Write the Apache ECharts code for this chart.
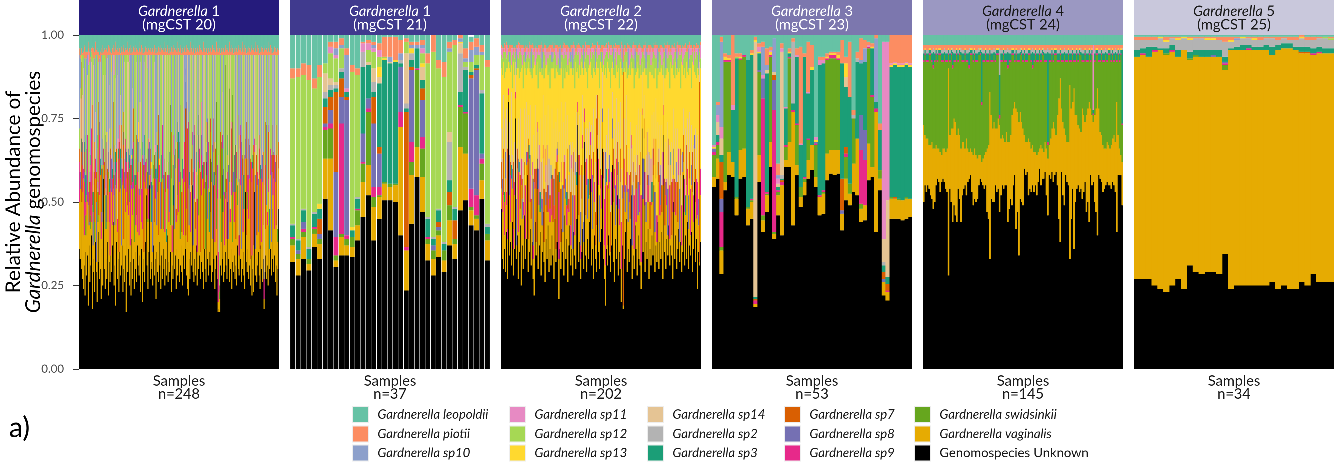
<!DOCTYPE html>
<html>
<head>
<meta charset="utf-8">
<script src="https://cdn.jsdelivr.net/npm/echarts@6/dist/echarts.min.js"></script>
<style>
html,body{margin:0;padding:0;background:#ffffff;}
#chart{width:1342px;height:462px;}
</style>
</head>
<body>
<div id="chart"></div>
<script>
// Species, bottom of the stack first. Codes are used in the sample strings below.
const stackCodes = ['U','V','S','J','I','H','G','F','E','D','C','B','A','P','L'];
const stackNames = ['Genomospecies Unknown','Gardnerella vaginalis','Gardnerella swidsinkii','Gardnerella sp9','Gardnerella sp8','Gardnerella sp7','Gardnerella sp3','Gardnerella sp2','Gardnerella sp14','Gardnerella sp13','Gardnerella sp12','Gardnerella sp11','Gardnerella sp10','Gardnerella piotii','Gardnerella leopoldii'];
const stackColors = ['#000000','#E6AB02','#66A61E','#E7298A','#7570B3','#D95F02','#1B9E77','#B3B3B3','#E5C494','#FFD92F','#A6D854','#E78AC3','#8DA0CB','#FC8D62','#66C2A5'];

// Legend columns (read top to bottom)
const legendColumns = [
  ['Gardnerella leopoldii','Gardnerella piotii','Gardnerella sp10'],
  ['Gardnerella sp11','Gardnerella sp12','Gardnerella sp13'],
  ['Gardnerella sp14','Gardnerella sp2','Gardnerella sp3'],
  ['Gardnerella sp7','Gardnerella sp8','Gardnerella sp9'],
  ['Gardnerella swidsinkii','Gardnerella vaginalis','Genomospecies Unknown']
];

const panelNumbers = ['1','1','2','3','4','5'];
const panelCsts = ['mgCST 20','mgCST 21','mgCST 22','mgCST 23','mgCST 24','mgCST 25'];
const panelStripColors = ['#251b7c','#403a8e','#5c57a0','#7c77ae','#9b98c2','#c9c8dc'];
const panelStripText = ['#ffffff','#ffffff','#ffffff','#ffffff','#1a1a1a','#1a1a1a'];
const yTicks = [0, 0.25, 0.5, 0.75, 1];

// Per-sample relative abundances (percent), one string per sample: code + value.
const mgcst20 = [
'U36 V14 J12 H4 A22 C6 P2 L4','U33 V21 I5 E25 A9 P1 L6','U55 V7 S3 G4 E12 C13 P3 L3','U30 V20 H42 D2 P2 L4','U27 V26 J8 I7 E14 C12 P0.5 L5.5',
'U24 V33 J3 E30 C4 P1 L5','U31 V9 J16 I12 A25 P4 L3','U22 V37 H6 G5 E15 C10 P1.5 L3.5','U35 V5 S6 J4 G8 C35 P2 L5','U28 V24 I14 A27 P2 L5',
'U34 V16 J20 E18 A6 P1 L5','U19 V30 J4 C38 B4 P3 L2','U37 V6 I22 C29 P2 L4','U26 V18 H12 F3 E33 P3 L5','U31 V11 S4 J15 G3 A29 P0.5 L6.5',
'U40 V4 J28 E20 C3 P1 L4','U18 V31 H30 C15 P2.5 L3.5','U29 V8 I10 G6 E40 P3 L4','U33 V22 J4 E32 C4 P1 L4','U23 V15 S6 H24 A25 P2 L5',
'U38 V19 J6 E14 C17 P4 L2','U29 V3 I18 H9 A35 P1.5 L4.5','U20 V34 J12 G4 E10 C14 P2 L4','U32 V12 S9 F3 C38 P1 L5','U41 V5 H34 E12 P3 L5',
'U27 V25 J18 I4 A19 P1 L6','U30 V28 G5 E29 P3 L5','U21 V18 J8 H14 A33 P2 L4','U36 V8 I16 E30 C4 P0.5 L5.5','U25 V22 S14 G8 C25 P3 L3',
'U57 V4 J5 E22 C6 P1 L5','U30 V22 H10 C32 P2 L4','U24 V30 J12 I4 E18 C6 P1.5 L4.5','U33 V9 G10 F6 C35 P4 L3','U27 V17 J24 A23 D3 P2 L4',
'U38 V14 H8 E33 C1 P1 L5','U22 V35 S2 I6 A29 P3 L3','U32 V12 J9 G4 E28 C9 P2.5 L3.5','U26 V8 J30 H8 A22 P2 L4','U34 V20 S12 C28 P1 L5',
'U29 V24 I10 E26 D5 P0.5 L5.5','U37 V6 J14 G3 A34 P2 L4','U44 V10 H26 E14 P3 L3','U25 V27 J6 F4 C26 B6 P1 L5','U31 V12 I24 C27 P2 L4',
'U19 V36 S4 G6 E22 C7 P4 L2','U38 V16 J8 H4 A28 P1.5 L4.5','U27 V14 J4 E43 C6 P2 L4','U33 V24 I6 G3 A25 B3 P1 L5','U23 V12 H33 E26 P3 L3',
'U35 V18 J20 A21 P2 L4','U28 V26 S3 G9 E16 C12 P0.5 L5.5','U31 V6 I26 H10 A21 P2.5 L3.5','U37 V19 J4 E30 D4 P1 L5','U23 V32 J12 G4 C23 P2 L4',
'U30 V9 H38 A17 P3 L3','U26 V28 I5 F4 E29 C2 P1 L5','U34 V13 J22 C25 P2 L4','U17 V40 S5 G4 C28 P1.5 L4.5','U50 V3 J12 E27 C2 P2 L4',
'U29 V20 H10 E35 P4 L2','U36 V10 J16 I4 E26 C2 P1 L5','U25 V25 S10 G4 C28 B2 P2 L4','U32 V5 J26 A31 P3 L3','U22 V33 H6 F3 E28 C2 P0.5 L5.5',
'U39 V15 I9 A30 D1 P2 L4','U27 V19 J10 G10 E18 C10 P1 L5','U33 V21 J14 H10 A16 P2.5 L3.5','U24 V14 S20 C36 P2 L4','U35 V22 I6 E31 P1 L5',
'U30 V13 J12 G3 C36 P3 L3','U26 V20 H24 E22 C2 P2 L4','U37 V4 J18 I10 A25 P1.5 L4.5','U31 V28 S3 G6 C20 D6 P1 L5','U28 V12 J14 E38 C2 P4 L2',
'U34 V18 I28 A14 P2 L4','U23 V31 H8 F4 E26 C2 P1 L5','U36 V8 J10 C40 P3 L3','U20 V22 J22 G4 A26 P2 L4','U33 V25 S5 E28 D3 P0.5 L5.5',
'U29 V6 H26 A33 P2 L4','U26 V30 I8 G6 E22 C2 P1 L5','U38 V16 J8 C32 P2.5 L3.5','U52 V7 J4 E31 P2 L4','U31 V14 H14 C35 P1 L5',
'U24 V20 S10 G12 E24 B4 P3 L3','U35 V10 J24 A25 P2 L4','U55 V3 I10 E26 P1.5 L4.5','U27 V27 J4 H8 C28 P2 L4','U32 V12 G12 F4 A32 D2 P1 L5',
'U30 V22 J12 E30 P4 L2','U25 V10 I20 C39 P2 L4','U37 V20 S4 C33 P1 L5','U28 V16 H20 E28 C2 P3 L3','U33 V18 J6 G8 A27 B2 P2 L4',
'U21 V35 J4 E30 C4 P0.5 L5.5','U35 V8 I28 A23 P2 L4','U29 V24 S4 G10 C27 P1 L5','U26 V14 H36 E18 P2.5 L3.5','U38 V18 J5 A31 D2 P2 L4',
'U31 V26 J6 E31 P1 L5','U24 V18 I14 C38 P3 L3','U34 V8 H14 G8 C30 P2 L4','U27 V30 J16 E21 P1.5 L4.5','U36 V6 S16 A36 P2 L4',
'U30 V24 I4 C36 P1 L5','U25 V16 J22 E31 P4 L2','U33 V20 H6 E35 P2 L4','U28 V10 G4 C52 P1 L5','U40 V14 J4 E36 P3 L3',
'U26 V28 S8 C32 P2 L4','U32 V12 J14 C36 P0.5 L5.5','U29 V18 I18 E29 P2 L4','U35 V8 S36 C15 P1 L5','U23 V34 H14 A23 P2.5 L3.5',
'U31 V4 J8 C51 P2 L4','U27 V22 G12 E33 P1 L5','U55 V9 J6 C24 P3 L3','U30 V12 I22 A30 P2 L4','U34 V26 S6 C28 P1.5 L4.5',
'U24 V20 J4 E46 P2 L4','U36 V10 H22 A26 P1 L5','U28 V24 S22 C20 P4 L2','U33 V14 J16 G8 E23 P2 L4','U26 V30 I12 A26 P1 L5',
'U31 V8 S40 C15 P3 L3','U37 V18 J4 E35 P2 L4','U29 V12 H12 C41 P0.5 L5.5','U25 V32 G6 C31 P2 L4','U34 V6 J20 E34 P1 L5',
'U30 V26 J12 A26 P2.5 L3.5','U86 V2 J2 E4 P2 L4','U36 V4 H38 A16 P1 L5','U28 V20 J24 I8 A14 P3 L3','U24 V14 H34 E22 P2 L4',
'U22 V32 J20 A20 P1.5 L4.5','U33 V10 I34 A17 P2 L4','U27 V28 G4 C35 P1 L5','U35 V6 J12 E41 P4 L2','U31 V24 H8 C31 P2 L4',
'U55 V12 J4 E23 P1 L5','U29 V8 I22 A35 P3 L3','U26 V30 S4 G10 C24 P2 L4','U33 V18 J22 E21 P0.5 L5.5','U28 V14 H8 E44 P2 L4',
'U37 V22 G6 C29 P1 L5','U25 V10 J16 E43 P2.5 L3.5','U58 V4 I8 A24 P2 L4','U30 V16 S30 C18 P1 L5','U34 V26 J6 E28 P3 L3',
'U27 V8 H24 C35 P2 L4','U32 V20 J28 C14 P1.5 L4.5','U57 V7 I6 E24 P2 L4','U29 V28 G4 A33 P1 L5','U24 V12 H26 E32 P4 L2',
'U36 V18 J8 E32 P2 L4','U30 V6 S20 C38 P1 L5','U26 V32 J4 E32 P3 L3','U65 V3 H6 A20 P2 L4','U33 V12 I30 C19 P0.5 L5.5',
'U28 V26 J14 E26 P2 L4','U35 V6 G12 C41 P1 L5','U31 V16 H28 C19 P2.5 L3.5','U63 V8 J4 E19 P2 L4','U26 V30 S6 C32 P1 L5',
'U29 V10 I28 A27 P3 L3','U55 V10 J10 E19 P2 L4','U33 V22 G4 C35 P1.5 L4.5','U24 V14 J30 A26 P2 L4','U30 V28 H8 E28 P1 L5',
'U34 V8 S38 C14 P4 L2','U27 V24 J10 C33 P2 L4','U17 V3 J34 I10 C30 P1 L5','U18 V5 J12 E59 P3 L3','U17 V4 S4 C69 P2 L4',
'U31 V20 H20 A23 P0.5 L5.5','U28 V10 S30 C26 P2 L4','U58 V8 J4 E24 P1 L5','U33 V14 S36 C11 P2.5 L3.5','U26 V26 I8 A34 P2 L4',
'U29 V8 J16 C41 P1 L5','U35 V16 S40 C3 P3 L3','U31 V22 H4 E37 P2 L4','U27 V12 J20 C35 P1.5 L4.5','U50 V14 G6 C24 P2 L4',
'U33 V6 I22 E33 P1 L5','U26 V30 S28 C10 P4 L2','U30 V14 J4 E46 P2 L4','U36 V20 H16 E22 P1 L5','U24 V28 J22 C20 P3 L3',
'U32 V6 S44 C12 P2 L4','U29 V24 I6 C35 P0.5 L5.5','U34 V10 J20 E30 P2 L4','U27 V26 G14 C27 P1 L5','U31 V8 H28 A27 P2.5 L3.5',
'U25 V32 J8 E29 P2 L4','U37 V12 S6 C39 P1 L5','U30 V26 I20 A18 P3 L3','U28 V6 J6 E54 P2 L4','U57 V9 H4 A24 P1.5 L4.5',
'U33 V22 J18 C21 P2 L4','U26 V10 I32 A26 P1 L5','U30 V28 H6 E30 P4 L2','U35 V6 J22 C31 P2 L4','U28 V20 G10 C36 P1 L5',
'U24 V34 J6 E30 P3 L3','U53 V10 I6 A25 P2 L4','U32 V8 H34 E20 P0.5 L5.5','U29 V24 J10 A31 P2 L4','U36 V12 S10 C36 P1 L5',
'U27 V18 J24 E25 P2.5 L3.5','U31 V26 I10 A27 P2 L4','U25 V8 H30 E31 P1 L5','U34 V22 J6 C32 P3 L3','U22 V12 J28 C32 P2 L4',
'U30 V30 G4 E30 P1.5 L4.5','U23 V14 H30 A27 P2 L4','U53 V12 J4 E25 P1 L5','U28 V8 I22 E36 P4 L2','U33 V26 J8 C27 P2 L4',
'U26 V14 H24 E30 P1 L5','U31 V24 J4 C35 P3 L3','U35 V6 I16 E37 P2 L4','U28 V30 J12 A24 P0.5 L5.5','U24 V12 H30 C28 P2 L4',
'U37 V20 G4 E33 P1 L5','U30 V8 J22 A34 P2.5 L3.5','U26 V30 I8 E30 P2 L4','U33 V10 H22 A29 P1 L5','U18 V3 J6 E67 P3 L3',
'U29 V26 J6 C33 P2 L4','U34 V8 H32 E20 P1.5 L4.5','U27 V22 I24 A21 P2 L4','U31 V12 J4 C47 P1 L5','U25 V28 J20 E21 P4 L2',
'U43 V14 H14 A23 P2 L4','U30 V6 G12 E46 P1 L5','U36 V22 J8 C28 P3 L3','U28 V10 I26 C30 P2 L4','U33 V26 H14 E21 P0.5 L5.5',
'U48 V4 J12 A30 P2 L4','U29 V28 H8 E29 P1 L5','U34 V8 J22 A30 P2.5 L3.5','U26 V30 I6 E32 P2 L4','U31 V12 H30 C21 P1 L5',
'U22 V26 J16 C30 P3 L3','U30 V8 S4 E52 P2 L4','U48 V12 H8 A26 P1.5 L4.5'
];

const mgcst21 = [
'U32 V5 S2 J0.5 G3.5 F0.5 C43.5 P3 L10','U28 V5 S1.5 I1 G3 F0.5 C48.5 P2.5 L10','U33 V6.5 S1.5 J1 I2 G3.5 F0.5 C40 P3.5 L8.5','U29.5 V2 S1.5 G3 F0.5 C50 P4.5 L9',
'U36.5 V4 S1.5 J0.5 G4 F0.5 C37 P3 L13','U33 V4.5 S1.5 I1.5 H4.5 G3 D1.5 C38 P3.5 L9','U51 V12 S8.5 J1 I1 H5 G2.5 F2 E5.5 C3 L8.5',
'U41.5 V21.5 S9 J1.5 I4 H4 G2 F1.5 E2 C7.5 B2 P1.5 L2','U30.5 V2 S1.5 J5.5 I19.5 H24 G1 F1 E1 C7 B1 A2 P2 L2','U34 V5.5 S1 J33 I8 H5.5 G2 F1 C6 A1 P2 L1',
'U34 V3 S2 J1 I40.5 H1 G1.5 A10 B1 P2 L4','U33.5 V3 S3 G2 C46.5 D1 P2 L9','U38.5 V4.5 S4.5 J0.5 G3 F0.5 C36.5 P2 L10','U45.5 V10.5 S5.5 J0.5 I8.5 G20 F4.5 B2.5 P0.5 L2',
'U52 V9 S16 J1 I3 G10 E1 C3.5 B2 P1 L1.5','U38.5 V10 S3 J3 I19 H8 G1.5 F3 E4 C5 B1 A1 P1 L2','U45 V6.5 S0.5 J2.5 I10 H2 G19 E2 D3 C3 B2 P2 L2.5',
'U50.5 V5 S0.5 G36.5 C0.5 D0.5 P6 L0.5','U50.5 V4 S1 G36 E0.5 A1.5 P6 L0.5','U50 V5 S0.5 G36.5 D0.5 P7 L0.5','U40 V32.5 J4.5 I13.5 G1 F1 A2 P4 L1.5',
'U23.5 V12 J1 H40.5 G1 F1.5 E15 C3.5 P1 L1.5','U43.5 V14.5 S4 J6 I21.5 H1 G2 F2 D1.5 A1 P1 L2','U57.5 V9 S23 J0.5 G6 A1 P1 L2',
'U47 V10.5 S8.5 J3.5 I11 H3.5 G2.5 E4 D1 C3 B1.5 A1 P1.5 L2','U32.5 V5 S1.5 J0.5 G5.5 F0.5 C46 P3 L5.5','U28 V5 S2.5 I1.5 G2 F0.5 C55.5 P5',
'U33.5 V6.5 S1.5 I1 H1.5 G3.5 F0.5 C42 P2.5 L7.5','U29 V3.5 S3 G2 F0.5 C49.5 P4.5 L8','U37 V7.5 S4.5 H4 G3.5 F11.5 E3 C24 A1 P2 L2',
'U33 V4.5 S1.5 H5.5 G3.5 F0.5 C48.5 P1.5 L1.5','U47.5 V19 S12 J0.5 G4 F11.5 E3 D0.5 A1 P1','U50.5 V14 S12 J0.5 G12.5 F1 C1.5 A1 P3 L4',
'U43 V4.5 S1 J5.5 I33 H1 G1 C3 A3.5 P2.5 L1.5','U41.5 V3.5 S1 J6 I37.5 H0.5 G1 C3 A2.5 P2.5 L1','U51 V5.5 S5 J1.5 I1.5 G18 F1 C10.5 A1 P2 L3',
'U32.5 V6 S2 G2 F1 C47 P2 L7.5'
];

const mgcst22 = [
'U48 V6 H8 E10 D18 C4 B2 P1 L3','U33 V14 J6 I4 E6 D25 C5 B3 P0.5 L3.5','U30 V22 H14 E16 D10 C3 P1 L4','U36 V4 J10 G3 E4 D30 C8 B1 P1.5 L2.5','U29 V28 I8 E10 D14 C6 P2 L3',
'U41 V8 J4 E25 D12 C3 B4 P1 L2','U27 V12 J3 H24 D24 C4 B2 P1 L3','U80 V2 J2 D8 C3 P1 L4','U34 V18 I12 E10 D16 C2 A3 P2 L3','U38 V6 J14 H4 D27 C6 P2 L3',
'U31 V26 G4 E22 D8 B5 P1 L3','U44 V10 I6 E4 D20 C10 B2 P1 L3','U28 V8 J6 H20 D30 C3 P1 L4','U36 V16 J4 E12 D20 C5 B3 P0.5 L3.5','U75 V6 J2 E9 C3 P1 L4',
'U33 V4 I14 E15 D22 A6 C2 P1 L3','U40 V20 H6 D24 C4 B2 P1 L3','U27 V14 J18 I4 E12 D15 C3 B4 P1 L2','U35 V24 G3 D25 C8 B1 P1.5 L2.5','U43 V5 H10 E20 D11 C6 P2 L3',
'U25 V30 J8 D27 C4 B2 P1 L3','U37 V8 I6 H6 E6 D28 B5 P1 L3','U30 V16 J4 E12 D22 C10 B2 P1 L3','U46 V12 H4 E16 D14 C3 P1 L4','U33 V6 J16 D35 C2 A3 P2 L3',
'U39 V22 I4 E15 D8 C5 B3 P0.5 L3.5','U58 V4 J3 D25 C4 B2 P1 L3','U29 V10 H30 E7 D16 C3 P1 L4','U35 V28 G4 D23 C3 B4 P1 L2','U42 V8 J8 I6 E15 D10 C6 P2 L3',
'U31 V14 H6 E7 D30 A6 C2 P1 L3','U38 V20 J4 D25 C8 B1 P1.5 L2.5','U27 V6 J4 I20 E13 D20 C4 B2 P1 L3','U22 V34 H4 D32 C3 P1 L4','U44 V10 J6 E19 D12 B5 P1 L3',
'U34 V4 H22 D28 C5 B3 P0.5 L3.5','U63 V8 J3 D18 C3 P1 L4','U30 V24 I6 E12 D12 C10 B2 P1 L3','U37 V12 J18 D23 C4 B2 P1 L3','U41 V6 G6 E22 D14 C6 P2 L3',
'U28 V20 J4 H10 D28 C3 B4 P1 L2','U35 V8 I8 E12 D25 A6 C2 P1 L3','U47 V16 J4 E15 D10 C3 P1 L4','U32 V6 H16 D33 C8 B1 P1.5 L2.5','U26 V30 J10 E10 D14 C4 B2 P1 L3',
'U39 V10 I4 E8 D30 B5 P1 L3','U33 V14 H20 D25 C3 P1 L4','U43 V4 J8 E24 D9 C5 B3 P0.5 L3.5','U29 V22 I12 D26 C6 P2 L3','U36 V8 J4 H4 E12 D20 C10 B2 P1 L3',
'U31 V26 G4 D29 C4 B2 P1 L3','U40 V6 J12 E20 D12 C2 A3 P2 L3','U34 V10 H14 D32 C3 B4 P1 L2','U27 V18 J4 I8 E15 D20 C3 P1 L4','U45 V12 J3 D27 C8 B1 P1.5 L2.5',
'U32 V4 H26 E12 D16 C4 B2 P1 L3','U38 V24 J4 D25 B5 P1 L3','U58 V6 I4 E10 D11 C6 P2 L3','U21 V12 J20 H6 D29 C5 B3 P0.5 L3.5','U36 V20 G3 E12 D17 A6 C2 P1 L3',
'U30 V8 H16 D36 C4 B2 P1 L3','U42 V14 J6 E18 D12 C3 P1 L4','U35 V6 I14 D29 C10 B2 P1 L3','U28 V26 H8 E12 D16 C3 B4 P1 L2','U46 V8 J10 D23 C8 B1 P1.5 L2.5',
'U33 V18 I6 E23 D10 C4 B2 P1 L3','U39 V4 J6 G4 D36 C6 P2 L3','U26 V22 H18 E10 D15 B5 P1 L3','U37 V10 J4 E7 D30 C5 B3 P0.5 L3.5','U43 V16 I8 D25 C3 P1 L4',
'U31 V6 J6 H10 E15 D22 C2 A3 P2 L3','U36 V24 J4 D26 C4 B2 P1 L3','U28 V8 I16 E16 D20 A6 C2 P1 L3','U41 V18 H6 D25 C3 B4 P1 L2','U34 V6 J12 E14 D18 C10 B2 P1 L3',
'U30 V28 I4 D30 C3 P1 L4','U45 V10 G4 E18 D12 C6 P2 L3','U73 V4 J3 D10 C4 B2 P1 L3','U32 V14 H18 D23 C8 B1 P1.5 L2.5','U38 V20 J6 E12 D15 B5 P1 L3',
'U27 V6 J4 I10 E11 D30 C5 B3 P0.5 L3.5','U35 V16 H10 D31 C3 P1 L4','U42 V24 J4 E12 D8 C4 B2 P1 L3','U30 V8 I6 E14 D30 A6 C2 P1 L3','U68 V6 J4 D14 C3 P1 L4',
'U34 V12 H16 E10 D18 C3 B4 P1 L2','U29 V26 J8 D26 C6 P2 L3','U39 V6 I12 E15 D12 C10 B2 P1 L3','U33 V18 G6 D33 C4 B2 P1 L3','U44 V8 H12 E10 D17 B5 P1 L3',
'U57 V10 J4 D21 C3 P1 L4','U31 V22 J10 E10 D15 C5 B3 P0.5 L3.5','U36 V6 I16 D29 C8 B1 P1.5 L2.5','U27 V30 H8 E13 D12 C4 B2 P1 L3','U40 V10 J6 D33 C6 P2 L3',
'U33 V4 H10 E15 D26 A6 C2 P1 L3','U29 V14 H32 E7 D10 C3 P1 L4','U66 V4 H12 D8 C3 B4 P1 L2','U35 V20 J8 E12 D15 C4 B2 P1 L3','U30 V8 I14 D32 C10 B2 P1 L3',
'U38 V16 H6 E18 D14 C3 P1 L4','U42 V6 J10 D32 C2 A3 P2 L3','U66 V8 I4 E11 C6 P2 L3','U33 V24 H8 D26 B5 P1 L3','U27 V10 J14 E15 D22 C5 B3 P0.5 L3.5',
'U19 V12 J24 I10 D25 C4 B2 P1 L3','U36 V20 G4 E10 D17 C8 B1 P1.5 L2.5','U31 V6 H18 D37 C3 P1 L4','U40 V14 J6 E18 D12 C3 B4 P1 L2','U34 V22 I8 D25 C6 P2 L3',
'U29 V6 H12 E12 D25 C10 B2 P1 L3','U37 V12 J10 D31 C4 B2 P1 L3','U61 V8 I6 E8 D9 C3 P1 L4','U32 V18 H16 D22 A6 C2 P1 L3','U26 V28 J6 E12 D16 C5 B3 P0.5 L3.5',
'U39 V4 I12 D32 C8 B1 P1.5 L2.5','U33 V16 J14 E18 D10 B5 P1 L3','U52 V6 H10 D21 C6 P2 L3','U28 V20 I14 E12 D16 C4 B2 P1 L3','U35 V8 J8 D33 C10 B2 P1 L3',
'U30 V26 H10 E14 D12 C3 P1 L4','U20 V10 J14 E16 D30 C3 B4 P1 L2','U37 V14 I4 D33 A6 C2 P1 L3','U18 V1 H70 C3 P4 L4','U33 V20 J10 E12 D15 C4 B2 P1 L3',
'U41 V6 I8 D34 C6 P2 L3','U45 V10 H12 E15 D10 C3 P1 L4','U29 V24 J6 D28 C8 B1 P1.5 L2.5','U36 V8 I10 E12 D22 A6 C2 P1 L3','U32 V18 J8 D33 B5 P1 L3',
'U39 V6 H14 E15 D14 C5 B3 P0.5 L3.5','U52 V14 J4 D22 C3 P1 L4','U27 V10 I18 E12 D23 C4 B2 P1 L3','U34 V22 H6 D28 C3 B4 P1 L2','U30 V6 J16 E12 D20 C10 B2 P1 L3',
'U43 V16 D29 A6 C2 P1 L3','U36 V8 J10 H4 E15 D16 C6 P2 L3','U28 V28 H8 D28 C3 P1 L4','U40 V6 I10 E22 D12 C4 B2 P1 L3','U33 V14 J14 D26 C8 B1 P1.5 L2.5',
'U31 V24 H10 E12 D14 B5 P1 L3','U24 V8 J20 D36 C5 B3 P0.5 L3.5','U72 V4 J2 E14 C3 P1 L4','U35 V16 I12 D26 C6 P2 L3','U63 V6 H6 E7 D8 C4 B2 P1 L3',
'U29 V20 J10 D31 C3 B4 P1 L2','U38 V6 I6 E14 D24 A6 C2 P1 L3','U33 V22 H16 D21 C3 P1 L4','U42 V8 J8 E14 D12 C10 B2 P1 L3','U27 V28 I10 D25 C4 B2 P1 L3',
'U36 V6 H8 E14 D25 C6 P2 L3','U31 V18 J14 D28 B5 P1 L3','U40 V10 G6 E20 D12 C5 B3 P0.5 L3.5','U34 V24 H8 D26 C3 P1 L4','U55 V6 J8 E8 D10 C8 B1 P1.5 L2.5',
'U29 V12 I12 D37 C4 B2 P1 L3','U37 V20 H12 E12 D9 C3 B4 P1 L2','U32 V6 J8 D38 C10 B2 P1 L3','U44 V14 I4 E12 D14 A6 C2 P1 L3','U30 V26 H10 D26 C3 P1 L4',
'U38 V8 J12 E15 D16 C6 P2 L3','U33 V16 I12 D29 C4 B2 P1 L3','U41 V6 H8 E18 D18 B5 P1 L3','U27 V28 J10 D23 C5 B3 P0.5 L3.5','U70 V6 J3 E13 C3 P1 L4',
'U35 V8 H14 D30 C8 B1 P1.5 L2.5','U30 V22 I4 E12 D20 A6 C2 P1 L3','U39 V10 J8 D33 C4 B2 P1 L3','U34 V6 I14 E20 D16 C3 B4 P1 L2','U43 V18 H8 D20 C6 P2 L3',
'U31 V8 J16 E12 D17 C10 B2 P1 L3','U37 V24 G4 D27 C3 P1 L4','U34 V6 H16 E12 D22 C4 B2 P1 L3','U27 V20 J10 D34 B5 P1 L3','U50 V8 I8 E12 D10 C5 B3 P0.5 L3.5',
'U33 V14 H10 D30 C8 B1 P1.5 L2.5','U40 V6 J10 E16 D20 C3 P1 L4','U30 V26 I6 D26 A6 C2 P1 L3','U36 V8 H12 E16 D18 C3 B4 P1 L2','U42 V16 J8 D23 C6 P2 L3',
'U32 V6 I16 E12 D24 C4 B2 P1 L3','U38 V20 H8 D18 C10 B2 P1 L3','U29 V8 J12 E15 D28 C3 P1 L4','U35 V24 I6 D26 B5 P1 L3','U58 V4 H8 E8 D10 C5 B3 P0.5 L3.5',
'U31 V16 J10 D33 C4 B2 P1 L3','U40 V6 G6 E20 D15 C8 B1 P1.5 L2.5','U33 V22 H12 D25 C3 P1 L4','U44 V8 J8 E15 D14 C6 P2 L3','U30 V12 I10 D36 A6 C2 P1 L3',
'U37 V20 H8 E12 D13 C3 B4 P1 L2','U34 V6 J14 D36 C4 B2 P1 L3','U41 V14 I6 E12 D11 C10 B2 P1 L3','U29 V24 H12 D27 C3 P1 L4','U36 V8 J8 E15 D24 B5 P1 L3',
'U56 V10 I4 D19 C6 P2 L3','U32 V18 H10 E12 D16 C5 B3 P0.5 L3.5','U39 V6 J12 D30 C8 B1 P1.5 L2.5','U24 V22 J10 E14 D20 C4 B2 P1 L3','U35 V8 I8 D37 A6 C2 P1 L3',
'U31 V1 H54 E6 C3 P1 L4','U38 V14 J8 D30 C3 B4 P1 L2'
];

const mgcst23 = [
'U54.5 V3 S6.5 J1 I1 B0.5 D0.5 L33','U57 V6 S4 J1 G2 E4 B2 A3 P1 L20','U28.5 V7 S1 J10.5 I4 H11 G2 E5 B3.5 A25.5 P1.5 L0.5','U53.5 V2.5 S36 J0.5 D1 P1 L5.5',
'U58 V7 S27 J0.5 D0.5 P1 L6','U57.5 V4.5 G15.5 B1.5 P21','U46 V5 S0.5 G41.5 C0.5 P1 L5.5','U57 V8.5 S27 J0.5 D0.5 P1 L5.5','U57.5 V8.5 S27.5 J0.5 L6',
'U43 V5 S0.5 G44 L7.5','U45 V5 S0.5 G43 J0.5 D0.5 P1 L4.5','U18.5 V1 J1 H0.5 G0.5 E76.5 D0.5 P1 L0.5','U56 V8 S25 I0.5 G5 B1.5 D0.5 P1 L2.5',
'U41 V3.5 S1.5 J35 I6 A8.5 B1 P1.5 L2','U47 V5 S0.5 G35.5 J0.5 E1 A1.5 P5 L4','U60.5 V7.5 S25.5 J0.5 D1 B0.5 P1 L3.5','U39 V1.5 S0.5 J36.5 I9 H1.5 E1 A10 L1',
'U46 V6 S1 J0.5 G1 E1 B1.5 A1 P3.5 L38.5','U40 V15 J1 H0.5 G0.5 F1 E37 B1 P1.5 L2.5','U60.5 V2 S4 G11 J0.5 B0.5 L21.5','U60.5 V7.5 S25 G1 J0.5 D0.5 P1 L4',
'U43 V34 J0.5 G2 F18.5 P1 L1','U58 V3 S12 G20 J0.5 B0.5 P2 L4','U48.5 V3 S3 G12.5 B0.5 P29 L3.5','U52 V4 S1 G36 J0.5 P1 L5.5',
'U57 V5.5 S6 G13.5 J0.5 B0.5 P15 L2','U59.5 V7.5 G22.5 D1 P6.5 L3','U54.5 V3 S9.5 J0.5 I0.5 B1 D0.5 L30.5','U46 V5.5 G39 J0.5 B1.5 P1 L6.5',
'U46.5 V6 S0.5 G38 J0.5 B1 P1 L6.5','U56.5 V8 S28 J0.5 D0.5 P1 L5.5','U58.5 V7 S27.5 J1 D0.5 P0.5 L5','U58 V7.5 S27.5 J1 D0.5 P0.5 L5',
'U58.5 V7 S27 J0.5 D1 P1 L5','U41.5 V5 I1 H9.5 G34.5 P7 L1.5','U50.5 V6.5 S6.5 J1 H2 G18 E3 D4 P2 L6.5','U49 V3.5 S3 G26 P16.5 L2',
'U53 V8.5 S13.5 F1 P1.5 L22.5','U52 V17 G23 F1 P2 L5','U44 V4 S1.5 J16 I10.5 G15.5 A1 P6.5 L1','U44.5 V4.5 J13.5 I9 G20.5 A4 P2.5 L1.5',
'U56.5 V11 S28.5 J0.5 B0.5 P1 L2','U57.5 V3 S21 G14 J0.5 D0.5 P1 L2.5','U41 V36 J1 G2 A19 P1','U53.5 V3.5 S2.5 G12 P2 L26.5',
'U22 V4 I1 H2 G2 F1 E7 B59 L2','U20.5 V2.5 J0.5 H2 G2 E23 B47.5 L2','U45 V6 S0.5 G39 D0.5 B0.5 P8.5','U45 V6 H0.5 G39.5 D0.5 B0.5 P8',
'U45 V5.5 S0.5 G39.5 D0.5 B0.5 P8.5','U44.5 V6 G40 D0.5 B0.5 P8.5','U45 V6 S0.5 G39.5 D0.5 B0.5 P8','U45.5 V5.5 G39.5 D0.5 B0.5 P8.5'
];

const mgcst24 = [
'U50 V23 S19 G2 J0.5 F1 P1.5 L3','U55 V15 S24 G1 J0.5 D0.5 P1 L3','U53 V16 S23 G2 J0.5 F1 P1.5 L3','U55 V14 S23 G2 J0.5 F1 P1.5 L3',
'U54 V13 S27 G1 J0.5 D0.5 P1 L3','U52 V15 S27 G1 J0.5 D0.5 P1 L3','U51 V17 S24 G2 J0.5 F1 P1.5 L3','U48 V18 S24 G4 J1 F1 P1 L3',
'U50 V16 S26 G2 J0.5 F1 P1.5 L3','U55 V12 S27 G1 J0.5 D0.5 P1 L3','U57 V9 S26 G2 J0.5 F1 P1.5 L3','U56 V10 S28 G1 J0.5 D0.5 P1 L3',
'U53 V12 S29 G1 J0.5 D0.5 P1 L3','U56 V8 S28 G2 J0.5 F1 P1.5 L3','U57 V9 S26 G2 J0.5 F1 P1.5 L3','U56 V10 S28 G1 F1 P1 L3',
'U54 V11 S27 G2 J0.5 F1 P1.5 L3','U53 V13 S26 G2 J0.5 F1 P1.5 L3','U28 V62 S4 G1 J0.5 D0.5 P1 L3','U54 V16 S22 G2 J0.5 F1 P1.5 L3',
'U50 V22 S22 G1 J0.5 D0.5 P1 L3','U44 V28 S18 G4 J1 F1 P1 L3','U49 V26 S17 G2 J0.5 F1 P1.5 L3','U46 V28 S18 G2 J0.5 F1 P1.5 L3',
'U44 V26 S24 G1 J0.5 D0.5 P1 L3','U54 V18 S20 G2 J0.5 F1 P1.5 L3','U51 V19 S24 G1 J0.5 D0.5 P1 L3','U44 V22 S28 G1 F1 P1 L3',
'U52 V16 S24 G2 J0.5 F1 P1.5 L3','U54 V14 S24 G2 J0.5 F1 P1.5 L3','U55 V11 S28 G1 J0.5 D0.5 P1 L3','U52 V17 S23 G2 J0.5 F1 P1.5 L3',
'U56 V10 S26 G2 J0.5 F1 P1.5 L3','U57 V8 S25 G4 J1 F1 P1 L3','U58 V8 S28 G1 J0.5 D0.5 P1 L3','U53 V12 S29 G1 J0.5 D0.5 P1 L3',
'U49 V15 S28 G2 J0.5 F1 P1.5 L3','U51 V15 S28 G1 J0.5 D0.5 P1 L3','U50 V14 S28 G2 J0.5 F1 P1.5 L3','U51 V12 S29 G2 J0.5 F1 P1.5 L3',
'U55 V9 S30 G1 F1 P1 L3','U57 V7 S30 G1 J0.5 D0.5 P1 L3','U56 V6 S17 G15 J1 F1 P1 L3','U55 V8 S29 G2 J0.5 F1 P1.5 L3',
'U54 V10 S28 G2 J0.5 F1 P1.5 L3','U55 V10 S29 G1 J0.5 D0.5 P1 L3','U47 V19 S26 G2 J0.5 F1 P1.5 L3','U45 V22 S25 G2 J0.5 F1 P1.5 L3',
'U33 V50 S11 G1 J0.5 D0.5 P1 L3','U51 V25 S16 G2 J0.5 F1 P1.5 L3','U50 V22 S20 G2 J0.5 F1 P1.5 L3','U50 V24 S20 G1 F1 P1 L3',
'U55 V17 S20 G2 J0.5 F1 P1.5 L3','U53 V19 S22 G1 J0.5 D0.5 P1 L3','U54 V21 S19 G1 J0.5 D0.5 P1 L3','U47 V26 S2 G12 J1 F8 P1 L3',
'U52 V17 S23 G2 J0.5 F1 P1.5 L3','U55 V15 S22 G2 J0.5 F1 P1.5 L3','U54 V15 S25 G1 J0.5 D0.5 P1 L3','U55 V13 S24 G2 J0.5 F1 P1.5 L3',
'U55 V16 S21 G2 J0.5 F1 P1.5 L3','U44 V24 S22 G4 J1 F1 P1 L3','U48 V20 S24 G2 J0.5 F1 P1.5 L3','U51 V19 S22 G2 J0.5 F1 P1.5 L3',
'U49 V27 S18 G1 J0.5 D0.5 P1 L3','U55 V23 S16 G1 J0.5 D0.5 P1 L3','U58 V22 S12 G2 J0.5 F1 P1.5 L3','U42 V36 S16 G1 J0.5 D0.5 P1 L3',
'U47 V30 S15 G2 J0.5 F1 P1.5 L3','U34 V40 S18 G2 J0.5 F1 P1.5 L3','U51 V26 S17 G1 F1 P1 L3','U50 V24 S20 G1 J0.5 D0.5 P1 L3',
'U49 V23 S20 G2 J0.5 F1 P1.5 L3','U60 V10 S24 G1 J0.5 D0.5 P1 L3','U58 V10 S24 G2 J0.5 F1 P1.5 L3','U59 V9 S24 G2 J0.5 F1 P1.5 L3',
'U52 V17 S25 G1 J0.5 D0.5 P1 L3','U54 V14 S26 G1 J0.5 D0.5 P1 L3','U53 V13 S26 G2 J0.5 F1 P1.5 L3','U55 V12 S23 G4 J1 F1 P1 L3',
'U53 V12 S27 G2 J0.5 F1 P1.5 L3','U55 V10 S29 G1 J0.5 D0.5 P1 L3','U52 V12 S28 G2 J0.5 F1 P1.5 L3','U56 V9 S27 G2 J0.5 F1 P1.5 L3',
'U60 V6 S28 G1 J0.5 D0.5 P1 L3','U55 V12 S25 G2 J0.5 F1 P1.5 L3','U57 V9 S28 G1 J0.5 D0.5 P1 L3','U57 V8 S29 G1 F1 P1 L3',
'U59 V9 S24 G2 J0.5 F1 P1.5 L3','U52 V14 S26 G2 J0.5 F1 P1.5 L3','U46 V17 S4 G27 J1 F1 P1 L3','U58 V9 S25 G2 J0.5 F1 P1.5 L3',
'U57 V12 S23 G2 J0.5 F1 P1.5 L3','U59 V13 S22 G1 J0.5 D0.5 P1 L3','U56 V18 S18 G2 J0.5 F1 P1.5 L3','U58 V14 S22 G1 J0.5 D0.5 P1 L3',
'U59 V11 S24 G1 J0.5 D0.5 P1 L3','U55 V21 S16 G2 J0.5 F1 P1.5 L3','U45 V36 S11 G2 J0.5 F1 P1.5 L3','U38 V49 S7 G1 J0.5 D0.5 P1 L3',
'U59 V19 S14 G2 J0.5 F1 P1.5 L3','U52 V22 S18 G2 J0.5 F1 P1.5 L3','U49 V23 S22 G1 F1 P1 L3','U58 V12 S22 G2 J0.5 F1 P1.5 L3',
'U56 V12 S24 G2 J0.5 F1 P1.5 L3','U55 V13 S26 G1 J0.5 D0.5 P1 L3','U33 V52 S7 G2 J0.5 F1 P1.5 L3','U45 V33 S14 G2 J0.5 F1 P1.5 L3',
'U54 V26 S14 G1 J0.5 D0.5 P1 L3','U36 V48 S8 G2 J0.5 F1 P1.5 L3','U50 V26 S16 G2 J0.5 F1 P1.5 L3','U54 V22 S18 G1 J0.5 D0.5 P1 L3',
'U55 V18 S19 G2 J0.5 F1 P1.5 L3','U53 V19 S22 G1 J0.5 D0.5 P1 L3','U54 V17 S23 G1 F1 P1 L3','U51 V27 S14 G2 J0.5 F1 P1.5 L3',
'U53 V23 S16 G2 J0.5 F1 P1.5 L3','U56 V18 S20 G1 J0.5 D0.5 P1 L3','U47 V29 S16 G2 J0.5 F1 P1.5 L3','U50 V28 S14 G2 J0.5 F1 P1.5 L3',
'U44 V36 S14 G1 J0.5 D0.5 P1 L3','U58 V20 S14 G2 J0.5 F1 P1.5 L3','U55 V21 S18 G1 J0.5 D0.5 P1 L3','U56 V18 S2 G1 J0.5 B19.5 L3',
'U50 V26 S16 G2 J0.5 F1 P1.5 L3','U47 V31 S16 G1 J0.5 D0.5 P1 L3','U40 V44 S10 G1 J0.5 D0.5 P1 L3','U58 V20 S14 G2 J0.5 F1 P1.5 L3',
'U57 V14 S21 G2 J0.5 F1 P1.5 L3','U56 V14 S24 G1 J0.5 D0.5 P1 L3','U53 V14 S25 G2 J0.5 F1 P1.5 L3','U54 V12 S26 G2 J0.5 F1 P1.5 L3',
'U55 V11 S28 G1 F1 P1 L3','U56 V12 S24 G2 J0.5 F1 P1.5 L3','U55 V12 S27 G1 J0.5 D0.5 P1 L3','U55 V11 S28 G1 J0.5 D0.5 P1 L3',
'U54 V13 S25 G2 J0.5 F1 P1.5 L3','U56 V13 S25 G1 J0.5 D0.5 P1 L3','U55 V15 S22 G2 J0.5 F1 P1.5 L3','U53 V15 S26 G1 F1 P1 L3',
'U41 V39 S12 G2 J0.5 F1 P1.5 L3','U58 V12 S24 G1 J0.5 D0.5 P1 L3','U58 V8 S26 G2 J0.5 F1 P1.5 L3','U58 V6 S30 G1 J0.5 D0.5 P1 L3',
'U49 V13 S11 G22 J0.5 F0.5 P1 L3'
];

const mgcst25 = [
'U27 V66.5 G2 F3 P1 L0.5','U27 V67 J0.5 G1.5 F2.5 P1 L0.5','U27 V66.5 G3 F2 P1 L0.5','U25 V70 J0.5 G1 F2 P1 L0.5',
'U24 V71.5 G0.5 F3 D0.5 L0.5','U23 V71 S0.5 G1.5 F2 D0.5 P1 L0.5','U25 V70 J0.5 G1.5 F2 P0.5 L0.5','U27 V66.5 G2 F3 D0.5 P0.5 L0.5',
'U24 V71.5 F3.5 D0.5 L0.5','U31 V61.5 S0.5 G2 F3.5 D0.5 P0.5 L0.5','U29 V64.5 S0.5 G1.5 F3.5 P0.5 L0.5','U28.5 V65 G2 F3.5 P0.5 L0.5',
'U29 V64.5 G2 F3 D0.5 P0.5 L0.5','U29 V64.5 I0.5 G1.5 F3 D0.5 P0.5 L0.5','U28.5 V65 G2 F3 P1 L0.5','U34.5 V55 S1.5 I0.5 J0.5 G1.5 F4.5 P1.5 L0.5',
'U24 V71.5 G0.5 F2 D0.5 P1 L0.5','U25 V70.5 G1 F2 A0.5 P0.5 L0.5','U25 V70.5 G1.5 F2 D0.5 L0.5','U25 V70.5 J0.5 G1 F2 P0.5 L0.5',
'U25 V70.5 G1 F2 D0.5 P0.5 L0.5','U25 V70.5 G1 F2 P1 L0.5','U25 V70.5 G1.5 F2 P0.5 L0.5','U26 V68 G2.5 F2.5 P0.5 L0.5',
'U24 V71.5 G1.5 F1.5 P1 L0.5','U25 V71 G1.5 F1.5 P0.5 L0.5','U24 V72 G1.5 F1 P1 L0.5','U24 V71.5 G1 F2 P1 L0.5',
'U26 V68.5 H0.5 G1.5 F2.5 D0.5 P0.5 L0.5','U25 V69.5 H0.5 G1.5 F2 P1 L0.5','U28.5 V65.5 J0.5 G1.5 F2.5 P1 L0.5','U26 V68.5 J0.5 G1.5 F2.5 P0.5 L0.5',
'U26 V68.5 G1.5 F3 C0.5 L0.5','U26 V68.5 G1.5 F2.5 C0.5 P0.5 L0.5'
];

const panelSamples = [mgcst20, mgcst21, mgcst22, mgcst23, mgcst24, mgcst25];

const FONT = 'Lato, "Noto Sans", "DejaVu Sans", sans-serif';
const PANEL_LEFT = 79, PANEL_STEP = 211, PANEL_W = 200, PLOT_TOP = 35, PLOT_H = 334;

// A code may appear more than once in a sample string; its parts add up.
function parseSample(s) {
  const out = {};
  s.split(' ').forEach(t => { out[t[0]] = (out[t[0]] || 0) + parseFloat(t.slice(1)); });
  return out;
}

const grids = [], xAxes = [], yAxes = [], series = [], graphics = [];

panelSamples.forEach((samples, p) => {
  const left = PANEL_LEFT + PANEL_STEP * p;
  const band = PANEL_W / samples.length;
  grids.push({ left: left, top: PLOT_TOP, width: PANEL_W, height: PLOT_H, containLabel: false });
  xAxes.push({ gridIndex: p, type: 'category', data: samples.map((_, i) => i + 1), show: false, boundaryGap: true });
  yAxes.push({
    gridIndex: p, type: 'value', min: 0, max: 1, interval: 0.25,
    show: p === 0,
    axisLine: { show: false },
    axisTick: { show: true, length: 6, lineStyle: { color: '#333333', width: 1 } },
    axisLabel: { show: true, margin: 15, color: '#4d4d4d', fontSize: 11.5, fontFamily: FONT,
                 formatter: v => yTicks.indexOf(v) >= 0 ? v.toFixed(2) : '' },
    splitLine: { show: false }
  });
  const parsed = samples.map(parseSample);
  stackCodes.forEach((code, k) => {
    const s = {
      type: 'bar', name: stackNames[k], xAxisIndex: p, yAxisIndex: p, stack: 'panel' + p,
      data: parsed.map(o => (o[code] || 0) / 100),
      itemStyle: { color: stackColors[k] },
      emphasis: { disabled: true }, silent: true, animation: false
    };
    // columns slightly wider than their slot so thin neighbours tile without seams
    if (p === 1) s.barCategoryGap = '10%'; else s.barWidth = band + 0.3;
    series.push(s);
  });

  // facet strip
  graphics.push({ type: 'rect', left: left, top: 0, shape: { x: 0, y: 0, width: PANEL_W, height: PLOT_TOP }, style: { fill: panelStripColors[p] }, silent: true });
  graphics.push({
    type: 'text', x: left + PANEL_W / 2, y: 18,
    style: {
      text: '{i|Gardnerella} ' + panelNumbers[p] + '\n(' + panelCsts[p] + ')',
      fill: panelStripText[p], fontSize: 14.5, fontFamily: FONT, lineHeight: 13.5,
      align: 'center', verticalAlign: 'middle',
      rich: { i: { fontStyle: 'italic', fontSize: 14.5, fontFamily: FONT, fill: panelStripText[p], lineHeight: 13.5 } }
    }, silent: true
  });
  // x axis title
  graphics.push({
    type: 'text', x: left + PANEL_W / 2, y: 387.5,
    style: { text: 'Samples\nn=' + samples.length, fill: '#1a1a1a', fontSize: 14.5, fontFamily: FONT, lineHeight: 13, align: 'center', verticalAlign: 'middle' },
    silent: true
  });
});

// y axis title
graphics.push({
  type: 'text', x: 23.5, y: 192, rotation: Math.PI / 2,
  style: {
    text: 'Relative Abundance of\n{i|Gardnerella} genomospecies',
    fill: '#000000', fontSize: 20.5, fontFamily: FONT, lineHeight: 20, align: 'center', verticalAlign: 'middle',
    rich: { i: { fontStyle: 'italic', fontSize: 20.5, fontFamily: FONT, fill: '#000000', lineHeight: 20 } }
  }, silent: true
});
// panel tag
graphics.push({ type: 'text', x: 9, y: 428, style: { text: 'a)', fill: '#000000', fontSize: 28, fontFamily: FONT, verticalAlign: 'middle' }, silent: true });

// one legend entry per component, placed on a 5 x 3 grid
const legendLefts = [352, 509, 647, 784, 914];
const legendTops = [406, 425.5, 444.5];
const legends = [];
legendColumns.forEach((names, c) => names.forEach((n, r) => {
  legends.push({
    data: [n], left: legendLefts[c], top: legendTops[r], padding: 0,
    itemWidth: 16, itemHeight: 16, icon: 'rect', selectedMode: false,
    itemStyle: { borderColor: '#eeeeee', borderWidth: 1 },
    textStyle: { fontSize: 13, fontFamily: FONT, color: '#1a1a1a', padding: [0, 0, 0, 4],
                 rich: { i: { fontStyle: 'italic', fontSize: 13, fontFamily: FONT, color: '#1a1a1a' } } },
    formatter: x => x.indexOf('Gardnerella') === 0 ? '{i|' + x + '}' : x
  });
}));

// a dense backing store keeps sub-pixel columns from washing out
const chart = echarts.init(document.getElementById('chart'), null, { renderer: 'canvas', devicePixelRatio: 4 });
chart.setOption({
  animation: false,
  backgroundColor: '#ffffff',
  grid: grids, xAxis: xAxes, yAxis: yAxes, series: series,
  legend: legends, graphic: graphics, tooltip: { show: false }
});
</script>
</body>
</html>
